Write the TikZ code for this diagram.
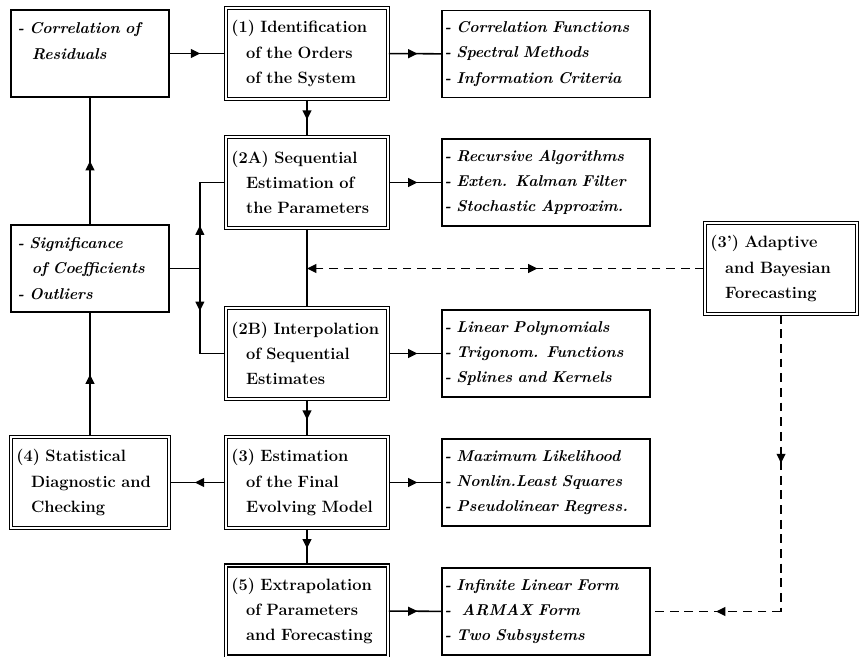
\documentclass[tikz,border=0pt]{standalone}
\usepackage{fontspec}
\usetikzlibrary{arrows.meta,decorations.markings}

\newcommand*{\ind}{\hspace*{0.9em}}
\newcommand*{\boxfont}{\fontsize{14}{21.5}\selectfont\bfseries}
\newcommand*{\notefont}{\fontsize{13.4}{21.5}\selectfont\bfseries\itshape}

\begin{document}
\begin{tikzpicture}
[
	x=0.3mm, y=-0.3mm,
	stage/.style={draw,double,double distance=1.4pt,line width=1.3pt,align=left,font=\boxfont,inner xsep=1.6mm,inner ysep=0pt,text width=45.4mm,minimum height=27.3mm},
	note/.style={draw,line width=1.5pt,align=left,font=\notefont,inner xsep=0.8mm,inner ysep=0pt,text width=60.8mm,minimum height=26.1mm},
	sidenote/.style={note,inner xsep=2mm,text width=43.4mm},
	link/.style={line width=1.3pt},
	dashlink/.style={line width=1.3pt,dash pattern=on 7.5pt off 5pt},
	midtip/.style={decoration={markings,mark=at position #1 with {\arrow{Triangle[length=8pt,width=7.5pt]}}},postaction={decorate}},
	midtip/.default=0.55,
	midtipback/.style={decoration={markings,mark=at position #1 with {\arrowreversed{Triangle[length=8pt,width=7.5pt]}}},postaction={decorate}}
]

	\useasboundingbox (0,0) rectangle (861,657);

	% left column
	\node[sidenote] at (90,53.5) (cr) {- Correlation of\\\ind Residuals\\\mbox{}};
	\node[sidenote] at (90,268.5) (sig) {- Significance\\\ind of Coefficients\\- Outliers};
	\node[stage,text width=44.2mm] at (90,482.5) (n4) {(4) Statistical\\\ind Diagnostic and\\\ind Checking};

	% center column
	\node[stage] at (307,53.5) (n1) {(1) Identification\\\ind of the Orders\\\ind of the System};
	\node[stage] at (307,182.5) (n2a) {(2A) Sequential\\\ind Estimation of\\\ind the Parameters};
	\node[stage] at (307,353.5) (n2b) {(2B) Interpolation\\\ind of Sequential\\\ind Estimates};
	\node[stage] at (307,482.5) (n3) {(3) Estimation\\\ind of the Final\\\ind Evolving Model};
	\node[stage] at (307,611) (n5) {(5) Extrapolation\\\ind of Parameters\\\ind and Forecasting};

	% right column
	\node[note] at (546,54) (cf) {- Correlation Functions\\- Spectral Methods\\- Information Criteria};
	\node[note] at (546,182.5) (ra) {- Recursive Algorithms\\- Exten. Kalman Filter\\- Stochastic Approxim.};
	\node[note] at (546,353.5) (lp) {- Linear Polynomials\\- Trigonom. Functions\\- Splines and Kernels};
	\node[note] at (546,482.5) (ml) {- Maximum Likelihood\\- Nonlin.Least Squares\\- Pseudolinear Regress.};
	\node[note] at (546,611.5) (inf) {- Infinite Linear Form\\-\ \ ARMAX\ Form\\- Two Subsystems};

	% adaptive
	\node[stage,text width=42.4mm] at (781,268.5) (n3p) {(3’) Adaptive\\\ind and Bayesian\\\ind Forecasting};

	% main chain
	\draw[link,midtip] (cr) -- (n1);
	\draw[link,midtip] (n1) -- (cf);
	\draw[link,midtip] (n1) -- (n2a);
	\draw[link,midtip] (n2a) -- (ra);
	\draw[link] (n2a) -- (n2b);
	\draw[link,midtip] (n2b) -- (lp);
	\draw[link,midtip] (n2b) -- (n3);
	\draw[link,midtip] (n3) -- (ml);
	\draw[link,midtip] (n3) -- (n4);
	\draw[link,midtip] (n3) -- (n5);
	\draw[link,midtip] (n5) -- (inf);

	% feedback
	\draw[link,midtip=0.5] (n4) -- (sig);
	\draw[link,midtip=0.5] (sig) -- (cr);
	\path (sig.east) ++(30,0) coordinate (jn);
	\draw[link] (sig.east) -- (jn);
	\draw[link,midtip=0.5] (jn) -- (jn |- n2a.west);
	\draw[link] (jn |- n2a.west) -- (n2a.west);
	\draw[link,midtip=0.5] (jn) -- (jn |- n2b.west);
	\draw[link] (jn |- n2b.west) -- (n2b.west);

	% adaptive links
	\coordinate (jd) at (n2a.south |- n3p.west);
	\coordinate (cd) at (n3p.south |- inf.east);
	\draw[dashlink,-{Triangle[length=8pt,width=7.5pt]},midtipback=0.42] (n3p.west) -- (jd);
	\draw[dashlink,midtip=0.5] (n3p.south) -- (cd);
	\draw[dashlink,midtip=0.5] (cd) -- (inf.east);

\end{tikzpicture}
\end{document}
